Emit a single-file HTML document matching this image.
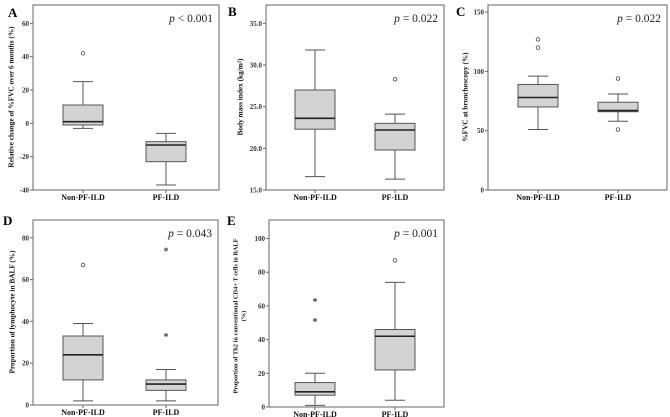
<!DOCTYPE html>
<html><head><meta charset="utf-8">
<style>
html,body{margin:0;padding:0;background:#fff;}
svg{display:block;font-family:"Liberation Serif",serif;}
</style></head>
<body>
<svg id="fig" width="670" height="417" viewBox="0 0 670 417" xmlns="http://www.w3.org/2000/svg"></svg>
<script>
// ---- data ----
const categories = ["Non-PF-ILD", "PF-ILD"];
const panelLetters = ["A", "B", "C", "D", "E"];
const pValues = ["< 0.001", "= 0.022", "= 0.022", "= 0.043", "= 0.001"];
const yTitles = [
  ["Relative change of %FVC over 6 months (%)"],
  ["Body mass index (kg/m\u00B2)"],
  ["%FVC at bronchoscopy (%)"],
  ["Proportion of lymphocyte in BALF (%)"],
  ["Proportion of Th2 in conventional CD4+ T cells in BALF", "(%)"]
];
const tickLabelsA = ["-40", "-20", "0", "20", "40", "60"];
const tickLabelsB = ["15.0", "20.0", "25.0", "30.0", "35.0"];
const tickLabelsC = ["0", "50", "100", "150"];
const tickLabelsD = ["0", "20", "40", "60", "80"];
const tickLabelsE = ["0", "20", "40", "60", "80", "100"];
// [whiskerLow, q1, median, q3, whiskerHigh] per category
const statsA = [[-3, -1, 1, 11, 25], [-37, -23, -13, -11, -6]];
const statsB = [[16.6, 22.3, 23.6, 27.0, 31.8], [16.3, 19.8, 22.2, 23.0, 24.1]];
const statsC = [[51, 70, 78, 89, 96], [58, 66, 67, 74, 81]];
const statsD = [[2, 12, 24, 33, 39], [2, 7, 10, 12, 17]];
const statsE = [[1, 7, 9, 14.5, 20], [4, 22, 42, 46, 74]];
// outliers: circles and extreme (stars)
const outCircA = [[42], []];
const outCircB = [[], [28.3]];
const outCircC = [[120, 127], [51, 94]];
const outCircD = [[67], []];
const outCircE = [[], [87]];
const outStarA = [[], []];
const outStarB = [[], []];
const outStarC = [[], []];
const outStarD = [[], [33, 74]];
const outStarE = [[51, 63], []];

// ---- layout ----
const panels = [
  {x0:33,x1:219,y0:5,y1:190,vmin:-40,vmax:71,ticks:tickLabelsA,stats:statsA,circ:outCircA,star:outStarA,cx:[83,166],lx:8,ly:17,tx:12,ty:97,fs:7.3},
  {x0:266,x1:444,y0:5,y1:190,vmin:15,vmax:37.2,ticks:tickLabelsB,stats:statsB,circ:outCircB,star:outStarB,cx:[315,395],lx:228,ly:16,tx:241,ty:97,fs:7.3},
  {x0:488,x1:667,y0:5,y1:190,vmin:0,vmax:156,ticks:tickLabelsC,stats:statsC,circ:outCircC,star:outStarC,cx:[538,618],lx:456,ly:16,tx:466,ty:97,fs:7.3},
  {x0:33,x1:218,y0:220,y1:405,vmin:0,vmax:88.5,ticks:tickLabelsD,stats:statsD,circ:outCircD,star:outStarD,cx:[83,166],lx:3,ly:225,tx:13,ty:312,fs:7.3},
  {x0:269,x1:444,y0:220,y1:407,vmin:0,vmax:111,ticks:tickLabelsE,stats:statsE,circ:outCircE,star:outStarE,cx:[315,395],lx:227,ly:225,tx:240,ty:316,fs:6.4}
];
const NS = "http://www.w3.org/2000/svg";
const svg = document.getElementById("fig");
function mk(tag, attrs, parent){
  const e = document.createElementNS(NS, tag);
  for (const k in attrs) e.setAttribute(k, attrs[k]);
  (parent||svg).appendChild(e);
  return e;
}
panels.forEach((p, i) => {
  const g = mk("g", {});
  
  
  const y = v => p.y1 - (v - p.vmin) / (p.vmax - p.vmin) * (p.y1 - p.y0);
  const frame = mk("rect", {x:p.x0, y:p.y0, width:p.x1-p.x0, height:p.y1-p.y0, fill:"none", stroke:"#666", "stroke-width":1}, g);
  
  
  const L = mk("text", {x:p.lx, y:p.ly, "font-size":13, "font-weight":"bold", fill:"#000"}, g);
  L.textContent = panelLetters[i];
  
  
  const pv = mk("text", {x:p.x1-6, y:p.y0+17, "font-size":11.5, "text-anchor":"end", fill:"#222"}, g);
  pv.innerHTML = '<tspan font-style="italic">p</tspan> ' + pValues[i];
  
  
  p.ticks.forEach(t => {
    const v = parseFloat(t), yy = y(v);
    const tk = mk("line", {x1:p.x0-3, x2:p.x0, y1:yy, y2:yy, stroke:"#666"}, g);
    
    
    const tl = mk("text", {x:p.x0-4, y:yy+2.5, "font-size":7, "font-weight":"bold", "text-anchor":"end", fill:"#333"}, g);
    tl.textContent = t;
    
    
  });
  const lines = yTitles[i];
  lines.forEach((ln, k) => {
    const xx = p.tx + (k - (lines.length-1)/2) * 8;
    const yt = mk("text", {x:xx, y:p.ty, "font-size":p.fs, "font-weight":"bold", "text-anchor":"middle", fill:"#111", transform:`rotate(-90 ${xx} ${p.ty})`, "dominant-baseline":"middle"}, g);
    yt.textContent = ln;
    
    
  });
  categories.forEach((c, j) => {
    const cx = p.cx[j];
    const xt = mk("line", {x1:cx, x2:cx, y1:p.y1, y2:p.y1+3, stroke:"#666"}, g);
    
    
    const xl = mk("text", {x:cx, y:p.y1+10, "font-size":8, "font-weight":"bold", "text-anchor":"middle", fill:"#111"}, g);
    xl.textContent = c;
    
    
    const s = p.stats[j], hw = 20, cw = 10;
    const wl = mk("line", {x1:cx, x2:cx, y1:y(s[0]), y2:y(s[1]), stroke:"#555"}, g);
    
    
    const wh = mk("line", {x1:cx, x2:cx, y1:y(s[3]), y2:y(s[4]), stroke:"#555"}, g);
    
    
    [s[0], s[4]].forEach(v => {
      const cap = mk("line", {x1:cx-cw, x2:cx+cw, y1:y(v), y2:y(v), stroke:"#555"}, g);
      
      
    });
    const bx = mk("rect", {x:cx-hw, y:y(s[3]), width:2*hw, height:y(s[1])-y(s[3]), fill:"#d3d3d3", stroke:"#555"}, g);
    
    
    const md = mk("line", {x1:cx-hw, x2:cx+hw, y1:y(s[2]), y2:y(s[2]), stroke:"#222", "stroke-width":1.6}, g);
    
    
    p.circ[j].forEach(v => {
      const o = mk("circle", {cx:cx, cy:y(v), r:1.8, fill:"none", stroke:"#444", "stroke-width":0.8}, g);
      
      
    });
    p.star[j].forEach(v => {
      const st = mk("text", {x:cx, y:y(v)+4, "font-size":10, "font-weight":"bold", "text-anchor":"middle", fill:"#444"}, g);
      st.textContent = "*";
      
      
    });
  });
});
</script>
</body></html>
